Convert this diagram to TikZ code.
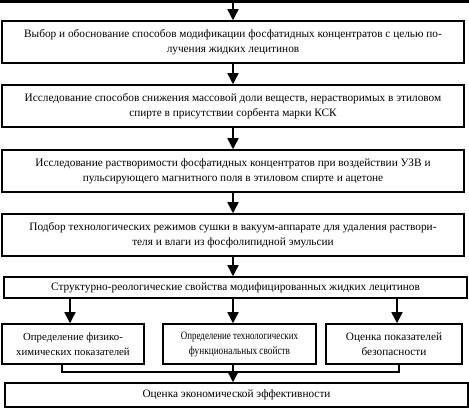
\documentclass[tikz,border=0pt]{standalone}
\usepackage{fontspec}
\setmainfont{Liberation Serif}
\usetikzlibrary{arrows.meta,calc}
\begin{document}
\begin{tikzpicture}[x=1pt,y=1pt,
  box/.style={draw,line width=1.5pt,minimum width=#1,inner sep=0pt,align=center,
    font=\fontsize{11.3}{15}\selectfont},
  conn/.style={line width=1.5pt},
  arr/.style={line width=1.5pt,-{Triangle[width=11pt,length=11pt]}}]
\useasboundingbox (0,0) rectangle (469,411);
% img y -> 411 - y
\coordinate (tl) at (0,409.5);
\coordinate (tr) at (469,409.5);
\draw[line width=2.5pt] (tl) -- (tr);
\node[box=462pt,minimum height=42pt] (b1) at (233,411-42)
  {Выбор и обоснование способов модификации фосфатидных концентратов с целью по-\\лучения жидких лецитинов};
\node[box=462pt,minimum height=42pt] (b2) at (233,411-106)
  {Исследование способов снижения массовой доли веществ, нерастворимых в этиловом\\спирте в присутствии сорбента марки КСК};
\node[box=462pt,minimum height=42pt] (b3) at (233,411-171)
  {Исследование растворимости фосфатидных концентратов при воздействии УЗВ и\\пульсирующего магнитного поля в этиловом спирте и ацетоне};
\node[box=462pt,minimum height=42pt] (b4) at (233,411-235)
  {Подбор технологических режимов сушки в вакуум-аппарате для удаления раствори-\\теля и влаги из фосфолипидной эмульсии};
\node[box=463pt,minimum height=21pt] (b5) at (235.5,411-287.5)
  {Структурно-реологические свойства модифицированных жидких лецитинов};
\node[box=142pt,minimum height=40pt,font=\fontsize{10.8}{15}\selectfont] (b6) at (73,411-344)
  {Определение физико-\\химических показателей};
\node[box=153pt,minimum height=40pt] (b7) at (239.5,411-344)
  {\scalebox{0.79}[1]{Определение технологических}\\\scalebox{0.82}[1]{функциональных свойств}};
\node[box=136pt,minimum height=40pt] (b8) at (394,411-344)
  {Оценка показателей\\безопасности};
\node[box=463pt,minimum height=24pt] (b9) at (236.5,411-395)
  {Оценка экономической эффективности};
% arrows
\draw[arr] (tl -| b1.north) -- (b1.north);
\draw[arr] (b1.south) -- (b2.north);
\draw[arr] (b2.south) -- (b3.north);
\draw[arr] (b3.south) -- (b4.north);
\draw[arr] (b4.south) -- (b5.north -| b4.south);
\coordinate (a6) at (70,0);
\coordinate (a7) at (233,0);
\coordinate (a8) at (397,0);
\draw[arr] (b5.south -| a6) -- (b6.north -| a6);
\draw[arr] (b5.south -| a7) -- (b7.north -| a7);
\draw[arr] (b5.south -| a8) -- (b8.north -| a8);
\coordinate (j) at (233,411-372);
\coordinate (l6) at (62,0);
\coordinate (l8) at (399,0);
\draw[conn] (b6.south -| l6) |- (j) -| (b8.south -| l8);
\draw[arr] (b7.south -| j) -- (b9.north -| j);
\end{tikzpicture}
\end{document}
